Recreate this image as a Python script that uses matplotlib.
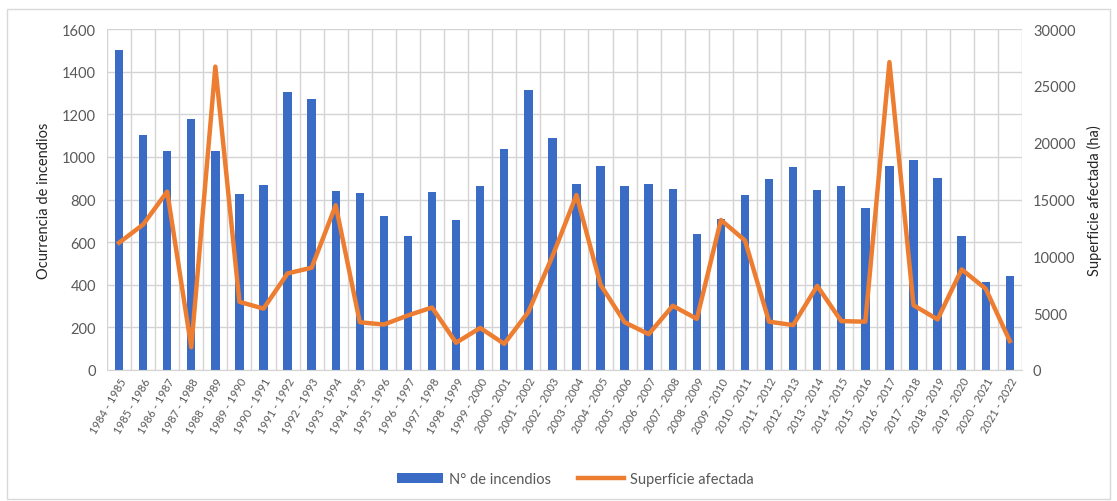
import numpy as np
import matplotlib.pyplot as plt
from matplotlib.patches import Rectangle

plt.rcParams['font.family'] = ['Lato', 'DejaVu Sans']

seasons = [f"{y} - {y + 1}" for y in range(1984, 2022)]
n_incendios = [1500, 1105, 1030, 1180, 1030, 825, 870, 1305, 1270, 842,
               831, 725, 628, 834, 703, 865, 1035, 1315, 1087, 875,
               956, 865, 873, 850, 640, 711, 823, 898, 953, 843,
               862, 761, 959, 986, 903, 628, 415, 443]
superficie = [11200, 12800, 15700, 2000, 26700, 6000, 5400, 8500, 9000, 14500,
              4200, 4000, 4800, 5500, 2400, 3700, 2300, 5100, 10000, 15400,
              7500, 4200, 3150, 5650, 4500, 13200, 11400, 4250, 3950, 7400,
              4300, 4250, 27100, 5700, 4450, 8850, 7150, 2550]

blue = "#3A6CC6"
orange = "#ED7D31"
grey_txt = "#595959"

fig = plt.figure(figsize=(11.17, 5.02), dpi=100)
ax = fig.add_axes([0.0958, 0.261, 0.819, 0.679])
ax2 = ax.twinx()

x = np.arange(len(seasons))
ax.bar(x, n_incendios, width=0.35, color=blue, label="N° de incendios", zorder=2)
ax2.plot(x, superficie, color=orange, lw=3.2, label="Superficie afectada", zorder=3)

ax.set_xlim(-0.5, len(seasons) - 0.5)
ax.set_ylim(0, 1600)
ax.set_yticks(range(0, 1601, 200))
ax2.set_ylim(0, 30000)
ax2.set_yticks(range(0, 30001, 5000))

# gridlines like Excel: horizontal + vertical between categories
ax.set_xticks(x)
ax.set_xticks(np.arange(-0.5, len(seasons)), minor=True)
ax.grid(axis="y", color="#D4D4D4", lw=1, zorder=0)
ax.grid(axis="x", which="minor", color="#D4D4D4", lw=1, zorder=0)
ax.grid(axis="x", which="major", visible=False)
ax.set_axisbelow(True)

ax.set_xticklabels(seasons, rotation=60, ha="right", rotation_mode="anchor",
                   fontsize=8, color=grey_txt)
ax.tick_params(axis="x", which="both", length=0, pad=4)
ax.tick_params(axis="y", length=0, labelsize=10.5, labelcolor=grey_txt, pad=8)
ax2.tick_params(axis="y", length=0, labelsize=10.5, labelcolor=grey_txt, pad=8)

for a in (ax, ax2):
    for s in a.spines.values():
        s.set_visible(False)
ax.spines["bottom"].set_visible(True)
ax.spines["bottom"].set_color("#D4D4D4")

ax.set_ylabel("Ocurrencia de incendios", fontsize=10.5, color="#262626", labelpad=8)
ax2.set_ylabel("Superficie afectada (ha)", fontsize=10.5, color="#262626", labelpad=8)

h1, l1 = ax.get_legend_handles_labels()
h2, l2 = ax2.get_legend_handles_labels()
leg = fig.legend(h1 + h2, l1 + l2, loc="center", bbox_to_anchor=(0.515, 0.043),
                 ncol=2, frameon=False, fontsize=10.5, handlelength=3.2,
                 columnspacing=1.8, handletextpad=0.4)
for t in leg.get_texts():
    t.set_color(grey_txt)

fig.patches.append(Rectangle((0.006, 0.004), 0.988, 0.976, transform=fig.transFigure,
                             fill=False, edgecolor="#D9D9D9", lw=1))

fig.savefig("out.png", dpi=100)
